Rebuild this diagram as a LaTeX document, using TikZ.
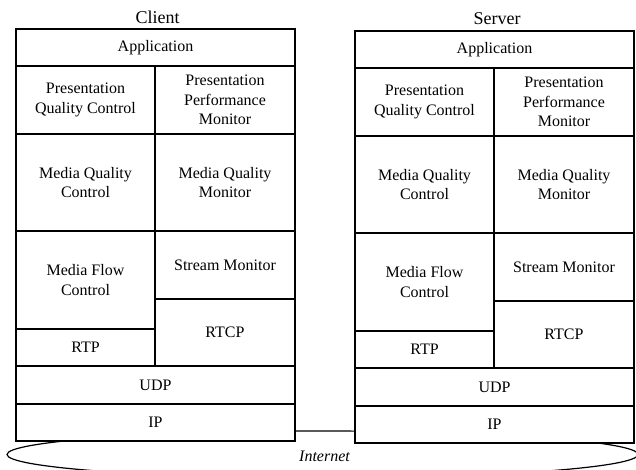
\documentclass[tikz,border=0pt]{standalone}
\usepackage{fontspec}
\setmainfont{Liberation Serif}
\usetikzlibrary{shapes.geometric}

\tikzset{
  every picture/.style={x=1pt, y=-1pt},
  layer/.style={draw, line width=1.3pt, fill=white, inner sep=0pt, align=center,
    font=\fontsize{16}{19.5}\selectfont},
  net/.style={draw, ellipse, line width=1.2pt, inner sep=0pt},
  netlabel/.style={font=\fontsize{16}{19.5}\selectfont\itshape},
  stacklabel/.style={anchor=base, font=\fontsize{18}{21}\selectfont}
}

% one cell of a protocol stack, given by its name, two corners and its text
\newcommand\layer[6]{%
  \pgfmathsetmacro\lx{(#2+#4)/2}\pgfmathsetmacro\ly{(#3+#5)/2}%
  \pgfmathsetmacro\lw{#4-#2}\pgfmathsetmacro\lh{#5-#3}%
  \node[layer, minimum width=\lw pt, minimum height=\lh pt] (#1) at (\lx,\ly) {#6};}

% the full protocol stack of one host
\newcommand\protostack[1]{%
  \layer{#1-app}{16}{29}{295}{66}{Application}
  \layer{#1-pqc}{16}{66}{155}{134}{Presentation\\Quality Control}
  \layer{#1-ppm}{155}{66}{295}{134}{Presentation\\Performance\\Monitor}
  \layer{#1-mqc}{16}{134}{155}{231}{Media Quality\\Control}
  \layer{#1-mqm}{155}{134}{295}{231}{Media Quality\\Monitor}
  \layer{#1-mfc}{16}{231}{155}{329}{Media Flow\\Control}
  \layer{#1-sm}{155}{231}{295}{299}{Stream Monitor}
  \layer{#1-rtp}{16}{329}{155}{366}{RTP}
  \layer{#1-rtcp}{155}{299}{295}{366}{RTCP}
  \layer{#1-udp}{16}{366}{295}{404}{UDP}
  \layer{#1-ip}{16}{404}{295}{441}{IP}
}

\begin{document}
\begin{tikzpicture}
  \useasboundingbox (0,0) rectangle (636,470);

  % the network cloud, partly hidden behind both stacks
  \node[net, minimum width=631pt, minimum height=47pt] (internet) at (322.5,454.5) {};
  \node[netlabel] (internetlabel) at (324.5,456) {Internet};

  % client side
  \protostack{c}
  \node[stacklabel] (client) at (157.5,23.3) {Client};

  % server side
  \begin{scope}[xshift=339pt, yshift=-2pt]
    \protostack{s}
  \end{scope}
  \node[stacklabel] (server) at (497,24.3) {Server};
\end{tikzpicture}
\end{document}
